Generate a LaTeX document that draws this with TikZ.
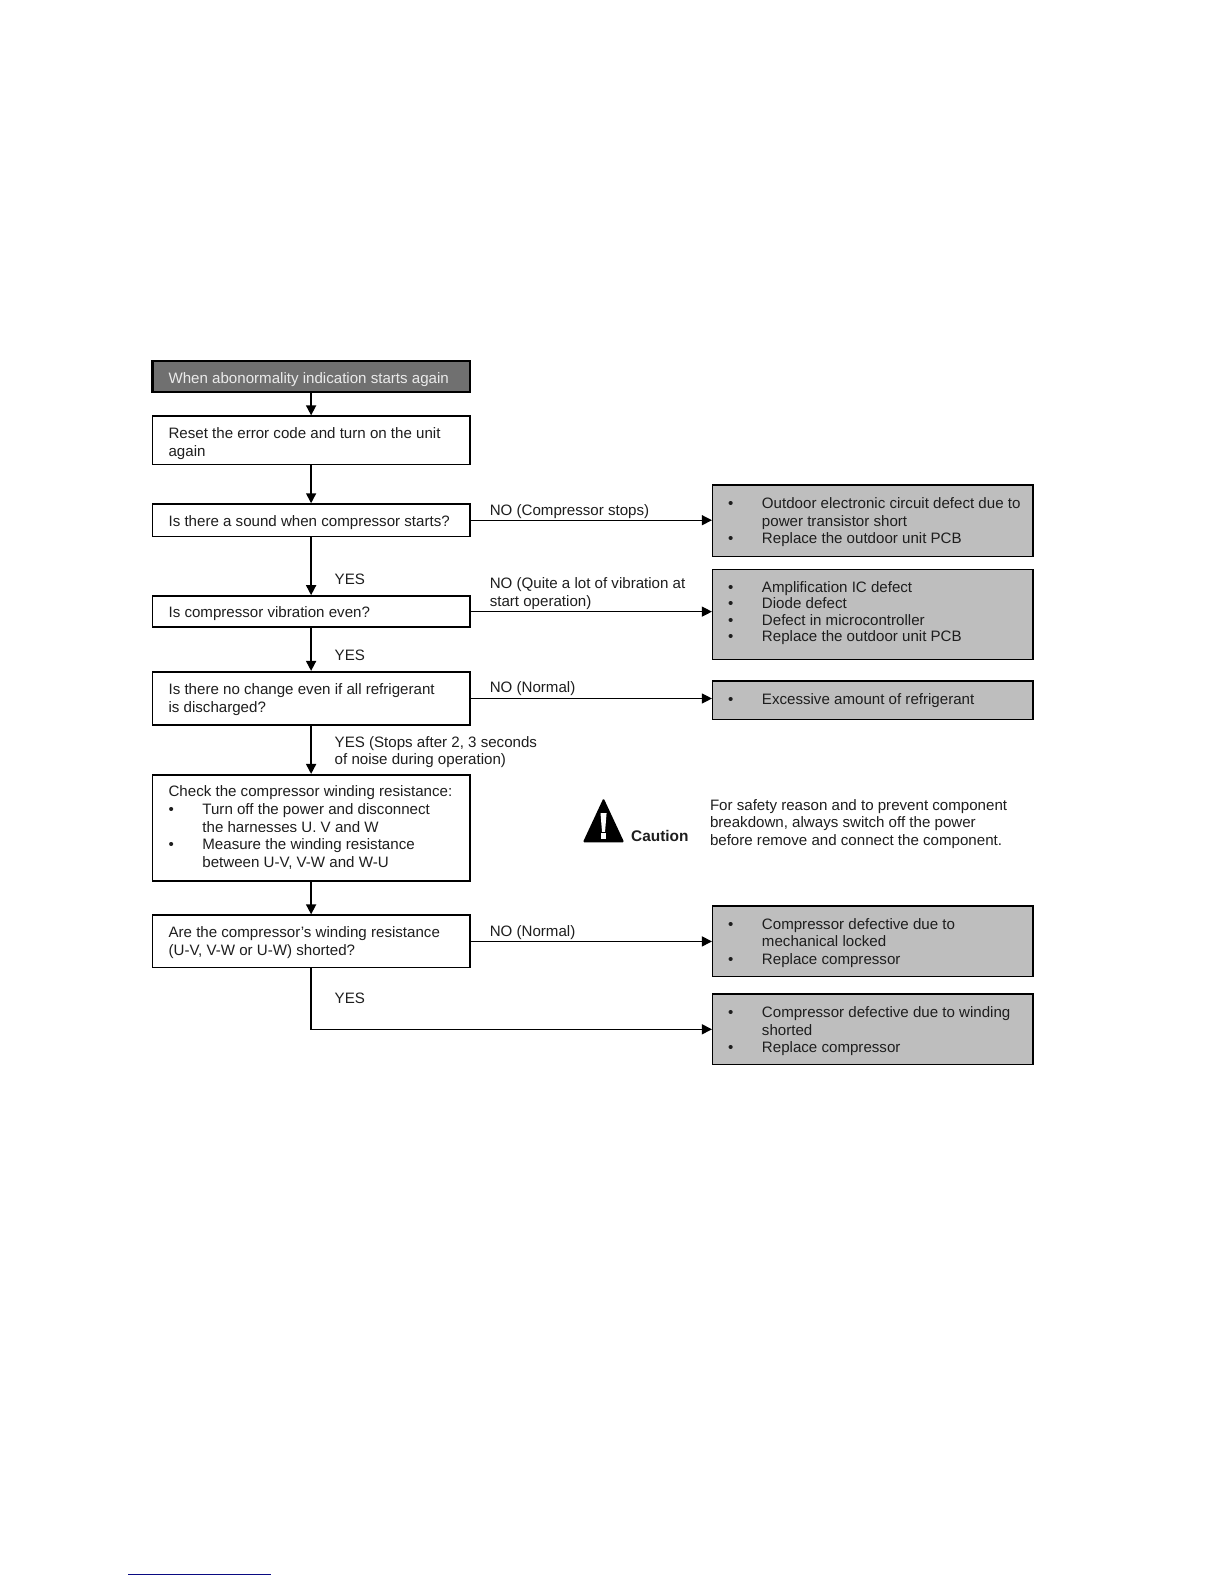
\documentclass[tikz,border=0pt]{standalone}
\usepackage{fontspec}
\setmainfont{Liberation Sans}
\usetikzlibrary{arrows.meta}
\definecolor{startgray}{RGB}{112,112,112}
\definecolor{resgray}{RGB}{190,190,190}
\definecolor{linkblue}{RGB}{10,10,130}
\definecolor{inktext}{RGB}{30,30,30}
\newcommand{\bul}[1]{\makebox[#1][l]{\textbullet}}
\tikzset{
  x=0.50505bp,y=-0.50505bp,
  every node/.style={font=\fontsize{7.55bp}{8.8bp}\selectfont,text=inktext},
  flowbox/.style={draw=black,line width=0.8bp,fill=white,minimum width=158.6bp,inner sep=0pt},
  startbox/.style={flowbox,fill=startgray,line width=1.1bp},
  resbox/.style={draw=black,line width=0.7bp,fill=resgray,minimum width=160.1bp,inner sep=0pt},
  lbl/.style={anchor=west,inner sep=0pt,align=flush left,yshift=-0.7bp},
  startlbl/.style={lbl,text=white!92!black},
  flow/.style={draw=black,line width=0.8bp,-{Triangle[length=5bp,width=5bp]}},
  nolink/.style={draw=black,line width=0.55bp,-{Triangle[length=5bp,width=5bp]}}
}
\begin{document}
\begin{tikzpicture}
\useasboundingbox (0,0) rectangle (1211.76,1568.16);
\fill[white] (0,0) rectangle (1211.76,1568.16);
% left column
\node[startbox,minimum height=15.66bp] (start) at (308,372.5) {};
\node[startlbl] (startt) at (166.5,374) {When abonormality indication starts again};
\node[flowbox,minimum height=24.24bp] (reset) at (308,436) {};
\node[lbl] (resett) at (166.5,438) {Reset the error code and turn on the unit\\again};
\node[flowbox,minimum height=16.16bp] (sound) at (308,515) {};
\node[lbl] (soundt) at (166.5,515.5) {Is there a sound when compressor starts?};
\node[flowbox,minimum height=15.66bp] (vib) at (308,605.5) {};
\node[lbl] (vibt) at (166.5,606) {Is compressor vibration even?};
\node[flowbox,minimum height=26.77bp] (disch) at (308,691.5) {};
\node[lbl] (discht) at (166.5,691) {Is there no change even if all refrigerant\\is discharged?};
\node[flowbox,minimum height=53.03bp] (check) at (308,819.5) {};
\node[lbl] (checkhead) at (166.5,783) {Check the compressor winding resistance:};
\node[lbl] (check1) at (166.5,801.5) {\bul{16.92bp}Turn off the power and disconnect};
\node[lbl] (check2) at (200,818.3) {the harnesses U, V and W};
\fill[white] (190,823.3) rectangle (440,829);
\node[lbl] (check3) at (166.5,835.5) {\bul{16.92bp}Measure the winding resistance};
\node[lbl] (check4) at (200,853) {between U-V, V-W and W-U};
\node[flowbox,minimum height=26.26bp] (short) at (308,932) {};
\node[lbl] (shortt) at (166.5,931.5) {Are the compressor’s winding resistance\\(U-V, V-W or U-W) shorted?};
% right column
\node[resbox,minimum height=35.86bp] (r1) at (864,515.5) {};
\node[lbl] (r1t) at (720.5,515.5) {\bul{16.9bp}Outdoor electronic circuit defect due to\\\hspace*{16.9bp}power transistor short\\\bul{16.9bp}Replace the outdoor unit PCB};
\node[resbox,minimum height=44.95bp] (r2) at (864,608.5) {};
\node[lbl,font=\fontsize{7.55bp}{8.2bp}\selectfont] (r2t) at (720.5,605.5) {\bul{16.9bp}Amplification IC defect\\\bul{16.9bp}Diode defect\\\bul{16.9bp}Defect in microcontroller\\\bul{16.9bp}Replace the outdoor unit PCB};
\node[resbox,minimum height=19.19bp] (r3) at (864,693) {};
\node[lbl] (r3t) at (720.5,692) {\bul{16.9bp}Excessive amount of refrigerant};
\node[resbox,minimum height=35.35bp] (r4) at (864,932) {};
\node[lbl] (r4t) at (720.5,932) {\bul{16.9bp}Compressor defective due to\\\hspace*{16.9bp}mechanical locked\\\bul{16.9bp}Replace compressor};
\node[resbox,minimum height=35.35bp] (r5) at (864,1019) {};
\node[lbl] (r5t) at (720.5,1019.5) {\bul{16.9bp}Compressor defective due to winding\\\hspace*{16.9bp}shorted\\\bul{16.9bp}Replace compressor};
% vertical flow
\draw[flow] (start) -- (reset);
\draw[flow] (reset) -- (sound);
\draw[flow] (sound) -- (vib);
\draw[flow] (vib) -- (disch);
\draw[flow] (disch) -- (check);
\draw[flow] (check) -- (short);
% no branches
\draw[nolink] (sound.east) -- (sound.east -| r1.west);
\draw[nolink] (vib.east) -- (vib.east -| r2.west);
\draw[nolink] (disch.east) -- (disch.east -| r3.west);
\draw[nolink,line width=0.7bp] (short.east) -- (r4.west);
\draw[nolink,line width=0.7bp] (short.south) |- (r5.west);
% labels
\node[lbl] (l1) at (484.5,505) {NO (Compressor stops)};
\node[lbl] (y1) at (331,572.5) {YES};
\node[lbl] (l2) at (484.5,586) {NO (Quite a lot of vibration at\\start operation)};
\node[lbl] (y2) at (331,647.5) {YES};
\node[lbl] (l3) at (484.5,680.5) {NO (Normal)};
\node[lbl] (y3) at (331,743) {YES (Stops after 2, 3 seconds\\of noise during operation)};
\node[lbl] (l4) at (484.5,922) {NO (Normal)};
\node[lbl] (y4) at (331,986.5) {YES};
% caution
\fill[black,rounded corners=0.75bp] (597.5,790) -- (618,834) -- (577,834) -- cycle;
\fill[white] (594.5,805) -- (600.5,805) -- (599,823.5) -- (596,823.5) -- cycle;
\fill[white] (595,825) rectangle (600,831);
\node[lbl,font=\fontsize{7.7bp}{8.8bp}\selectfont\bfseries] (caut) at (624.5,826) {Caution};
\node[lbl] (note) at (702.5,814.3) {For safety reason and to prevent component\\breakdown, always switch off the power\\before remove and connect the component.};
% footer rule
\coordinate (fa) at (127,1559);
\coordinate (fb) at (268,1559);
\draw[linkblue,line width=0.6bp] (fa) -- (fb);
\end{tikzpicture}
\end{document}
